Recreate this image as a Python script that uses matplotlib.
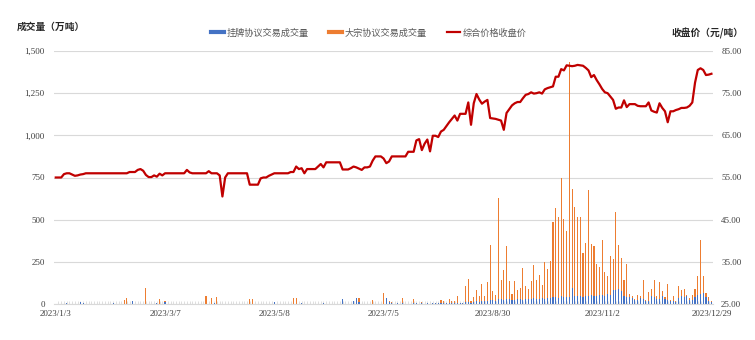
import numpy as np
import matplotlib
matplotlib.use("Agg")
import matplotlib.pyplot as plt
from matplotlib.lines import Line2D
from matplotlib.ticker import FuncFormatter

# 综合价格收盘价 (元/吨), one value per trading day
price = [
    55.0, 55.0, 55.0, 55.8, 56.0, 56.0, 55.7, 55.4, 55.5, 55.7,
    55.8, 56.0, 56.0, 56.0, 56.0, 56.0, 56.0, 56.0, 56.0, 56.0,
    56.0, 56.0, 56.0, 56.0, 56.0, 56.0, 56.0, 56.3, 56.3, 56.3,
    56.8, 57.0, 56.6, 55.6, 55.1, 55.1, 55.5, 55.2, 55.9, 55.5,
    56.0, 56.0, 56.0, 56.0, 56.0, 56.0, 56.0, 56.0, 56.8, 56.2,
    56.0, 56.0, 56.0, 56.0, 56.0, 56.0, 56.5, 56.0, 56.0, 56.0,
    55.5, 50.5, 55.0, 56.0, 56.0, 56.0, 56.0, 56.0, 56.0, 56.0,
    56.0, 53.3, 53.3, 53.3, 53.3, 54.8, 55.0, 55.0, 55.4, 55.7,
    56.0, 56.0, 56.0, 56.0, 56.0, 56.0, 56.3, 56.3, 57.6, 57.0,
    57.2, 56.0, 57.0, 57.0, 57.0, 57.0, 57.6, 58.2, 57.4, 58.6,
    58.6, 58.6, 58.6, 58.6, 58.6, 56.9, 56.9, 56.9, 57.2, 57.6,
    57.4, 57.1, 56.8, 57.4, 57.4, 57.6, 59.0, 60.0, 60.0, 60.0,
    59.5, 58.4, 58.8, 60.0, 60.0, 60.0, 60.0, 60.0, 60.0, 61.1,
    61.1, 61.1, 63.8, 64.1, 61.5, 63.0, 64.0, 61.2, 64.9, 64.9,
    64.6, 65.9, 66.3, 67.2, 68.1, 68.9, 69.7, 68.5, 70.1, 70.1,
    70.1, 72.8, 67.5, 72.6, 74.8, 73.5, 72.5, 73.0, 73.4, 69.1,
    69.0, 68.9, 68.7, 68.5, 66.3, 70.3, 71.2, 72.1, 72.6, 72.9,
    72.9, 73.8, 74.6, 74.8, 75.2, 74.9, 75.0, 75.2, 74.9, 75.9,
    76.2, 76.4, 76.6, 78.9, 78.9, 80.7, 80.4, 81.6, 81.5, 81.4,
    81.5, 81.7, 81.6, 81.5, 81.0, 80.4, 78.8, 79.3, 78.1, 77.1,
    76.0, 75.2, 75.0, 74.2, 73.4, 71.3, 71.6, 71.6, 73.3, 71.7,
    72.4, 72.4, 72.4, 72.0, 71.9, 71.9, 71.9, 72.8, 70.9, 70.6,
    70.4, 72.6, 71.5, 70.7, 68.1, 70.7, 70.7, 71.0, 71.2, 71.5,
    71.5, 71.6, 72.0, 72.8, 77.5, 80.5, 80.9, 80.5, 79.3, 79.4, 79.6,
]

# 挂牌协议交易成交量 (万吨)
listing_vol = [
    2, 0, 2, 0, 3, 0, 2, 0, 0, 10,
    8, 0, 2, 0, 2, 0, 2, 0, 2, 0,
    2, 5, 0, 0, 2, 0, 0, 0, 20, 0,
    0, 2, 0, 0, 2, 0, 0, 3, 0, 2,
    10, 0, 2, 0, 0, 2, 0, 0, 2, 0,
    0, 2, 0, 0, 0, 2, 0, 0, 3, 0,
    0, 2, 0, 0, 2, 0, 0, 0, 2, 0,
    0, 0, 0, 2, 0, 2, 0, 0, 2, 0,
    10, 0, 2, 0, 0, 2, 0, 0, 0, 2,
    6, 0, 2, 0, 0, 2, 0, 0, 8, 0,
    2, 0, 0, 2, 0, 28, 0, 2, 0, 20,
    34, 12, 0, 2, 0, 2, 0, 0, 2, 0,
    0, 34, 10, 8, 2, 4, 2, 5, 2, 0,
    2, 4, 3, 2, 8, 2, 3, 2, 4, 3,
    3, 6, 6, 3, 8, 5, 6, 8, 5, 6,
    10, 12, 8, 10, 15, 12, 18, 20, 15, 22,
    25, 20, 28, 30, 25, 28, 30, 22, 25, 28,
    30, 25, 32, 28, 30, 35, 32, 30, 35, 32,
    38, 35, 40, 42, 38, 45, 40, 42, 40, 95,
    45, 48, 45, 42, 50, 45, 55, 48, 50, 52,
    55, 50, 58, 52, 85, 82, 88, 80, 45, 40,
    42, 35, 22, 22, 35, 28, 18, 18, 45, 40,
    30, 30, 48, 30, 25, 20, 18, 12, 35, 50,
    40, 45, 25, 25, 40, 55, 60, 65, 40, 20, 10,
]

# 大宗协议交易成交量 (万吨)
block_vol = [
    0, 0, 0, 2, 0, 0, 0, 0, 0, 0,
    0, 0, 0, 0, 0, 0, 0, 0, 0, 0,
    0, 0, 0, 0, 0, 24, 34, 0, 0, 0,
    0, 0, 0, 97, 0, 0, 0, 0, 28, 0,
    5, 0, 0, 0, 0, 0, 0, 0, 0, 0,
    0, 0, 0, 0, 0, 48, 0, 34, 0, 44,
    0, 0, 0, 0, 0, 0, 0, 0, 0, 0,
    0, 28, 28, 0, 0, 0, 0, 0, 0, 0,
    0, 0, 0, 0, 0, 0, 0, 34, 34, 0,
    0, 0, 0, 0, 0, 0, 0, 0, 0, 0,
    0, 0, 0, 0, 0, 0, 0, 0, 0, 0,
    0, 22, 0, 0, 0, 0, 24, 0, 0, 0,
    63, 0, 8, 2, 0, 4, 0, 29, 0, 0,
    0, 24, 0, 0, 6, 0, 0, 0, 0, 0,
    0, 19, 14, 2, 22, 15, 9, 37, 3, 2,
    95, 136, 7, 30, 70, 33, 102, 30, 113, 325,
    50, 35, 598, 114, 174, 317, 104, 39, 109, 57,
    67, 188, 72, 61, 104, 194, 112, 143, 79, 216,
    171, 221, 445, 529, 480, 704, 462, 388, 1395, 585,
    532, 470, 469, 259, 314, 631, 300, 297, 188, 165,
    325, 139, 106, 230, 183, 466, 259, 192, 99, 198,
    19, 14, 8, 33, 10, 116, 4, 53, 44, 100,
    15, 98, 27, 11, 95, 6, 31, 6, 73, 35,
    49, 10, 10, 30, 49, 109, 320, 102, 25, 21, 6,
]

tick_labels = ["2023/1/3", "2023/3/7", "2023/5/8", "2023/7/5",
               "2023/8/30", "2023/11/2", "2023/12/29"]

BLUE = "#4472C4"
ORANGE = "#ED7D31"
RED = "#C00000"
GRID = "#D9D9D9"
TXT = "#404040"
CJK = ["Noto Sans CJK SC", "DejaVu Sans"]
NUM = "Liberation Serif"

n = len(price)
x = np.arange(n)
tick_pos = np.arange(0, n, 40)

fig = plt.figure(figsize=(7.55, 3.40), dpi=100)
ax = fig.add_axes([54.4 / 755, 36 / 340, 658.4 / 755, 253 / 340])

# stacked columns
ax.bar(x, listing_vol, width=0.4, color=BLUE, zorder=2, linewidth=0)
ax.bar(x, block_vol, width=0.4, bottom=listing_vol, color=ORANGE, zorder=2, linewidth=0)

ax.set_xlim(-0.5, n - 0.5)
ax.set_ylim(0, 1500)
ax.set_yticks(np.arange(0, 1501, 250))
ax.yaxis.set_major_formatter(FuncFormatter(lambda v, p: f"{v:,.0f}"))
ax.grid(axis="y", color=GRID, linewidth=0.8)
ax.set_axisbelow(True)
for s in ["top", "right", "left"]:
    ax.spines[s].set_visible(False)
ax.spines["bottom"].set_color(GRID)
ax.set_xticks(tick_pos)
ax.set_xticklabels(tick_labels)
ax.set_xticks(x, minor=True)
ax.tick_params(axis="x", which="major", length=0, pad=4)
ax.tick_params(axis="x", which="minor", length=2, color=GRID, direction="in")
ax.tick_params(axis="y", length=0, pad=7)
for lab in ax.get_xticklabels() + ax.get_yticklabels():
    lab.set_fontfamily(NUM)
    lab.set_fontsize(6.5)
    lab.set_color(TXT)

# price line on the right axis
ax2 = ax.twinx()
ax2.plot(x, price, color=RED, linewidth=1.6, zorder=3)
ax2.set_ylim(25, 85)
ax2.set_yticks(np.arange(25, 86, 10))
ax2.yaxis.set_major_formatter(FuncFormatter(lambda v, p: f"{v:.2f}"))
for s in ax2.spines.values():
    s.set_visible(False)
ax2.tick_params(axis="y", length=0, pad=6)
for lab in ax2.get_yticklabels():
    lab.set_fontfamily(NUM)
    lab.set_fontsize(6.5)
    lab.set_color(TXT)

# axis titles
fig.text(16.7 / 755, 1 - 27 / 340, "成交量（万吨）", ha="left", va="center",
         fontsize=7, fontweight="bold", family=CJK, color="#262626")
fig.text(744 / 755, 1 - 33 / 340, "收盘价（元/吨）", ha="right", va="center",
         fontsize=7, fontweight="bold", family=CJK, color="#262626")

handles = [
    Line2D([0], [0], color=BLUE, linewidth=3),
    Line2D([0], [0], color=ORANGE, linewidth=3),
    Line2D([0], [0], color=RED, linewidth=1.6),
]
labels = ["挂牌协议交易成交量", "大宗协议交易成交量", "综合价格收盘价"]
fig.legend(handles, labels, loc="center", bbox_to_anchor=(369 / 755, 1 - 33 / 340),
           ncol=3, frameon=False, handlelength=1.4, handletextpad=0.3,
           columnspacing=2.2, prop={"family": CJK, "size": 6.6}, labelcolor="#595959")

fig.savefig("out.png", dpi=100)
